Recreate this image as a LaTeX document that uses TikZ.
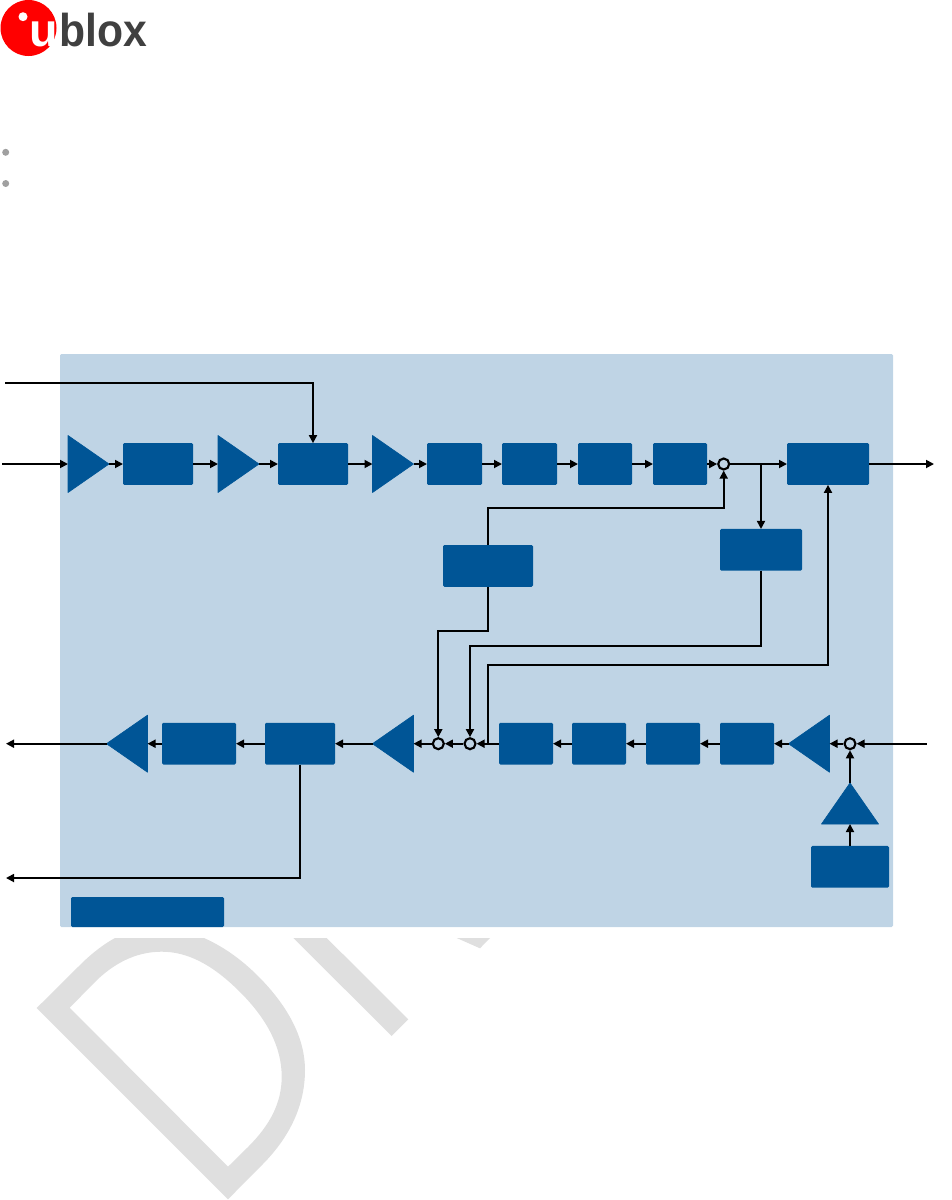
\documentclass[tikz,border=0pt]{standalone}
\usepackage{fontspec}
\setmainfont{Liberation Sans}
\usetikzlibrary{arrows.meta,shapes.geometric}

\begin{document}
\begin{tikzpicture}[
    x=0.75pt, y=-0.75pt,
    every node/.style={inner sep=0pt, outer sep=0pt},
    blockbox/.style={fill=blockcolor, rounded corners=1pt, minimum height=41.7*0.75pt},
    amptri/.style={shape=isosceles triangle, isosceles triangle stretches, anchor=lower side,
        fill=blockcolor, draw=blockcolor, line width=0.5pt, line join=round,
        minimum width=57*0.75pt, minimum height=41*0.75pt},
    sumring/.style={shape=circle, draw=black, fill=panelcolor, line width=1.6pt, minimum size=11*0.75pt, outer sep=0.8pt},
    sigline/.style={-{Triangle[length=6pt, width=6pt]}, line width=1.3pt, color=black},
]

% Colors
\definecolor{blockcolor}{HTML}{005596}
\definecolor{panelcolor}{HTML}{BFD4E5}
\definecolor{markcolor}{HTML}{DFDFDF}
\definecolor{dotcolor}{HTML}{A0A0A0}
\definecolor{logored}{HTML}{FF0000}
\definecolor{logogray}{HTML}{404040}

% Y coordinates
\def\upy{464}
\def\lowy{743.7}
\def\midy{565.9}

\useasboundingbox (0,0) rectangle (951,1200);

% Watermark pieces
\fill[markcolor, even odd rule]
    (36.7,1008) -- (80,965) .. controls (92,953) and (104,944) .. (115,938) -- (204,938)
    .. controls (222,946) and (240,958) .. (258,976) .. controls (290,1008) and (305,1040) .. (305,1070)
    .. controls (305,1105) and (290,1137) .. (262,1165) -- (228,1199.3) -- cycle
    (69.7,1007.7) -- (228,1166.7) -- (248,1147) .. controls (270,1125) and (281.7,1103) .. (281.7,1076.7)
    .. controls (281.7,1048) and (268,1020) .. (240,992) .. controls (212,964) and (187,951.7) .. (161.7,951.7)
    .. controls (140,951.7) and (118,960) .. (97,980) -- cycle;
\fill[markcolor] (293.3,938) -- (326.7,938) -- (408.3,1019.3) -- (391.7,1036) -- cycle;
\fill[markcolor] (456.7,938) -- (490,938) -- (480,948.3) -- cycle;

% Logo
\node[shape=circle, fill=logored, minimum size=56*0.75pt] (logodisc) at (28.5,28) {};
\node[shape=circle, fill=white, minimum size=9*0.75pt] (logodot) at (23,16.7) {};
\node[anchor=base west, font=\bfseries\fontsize{35}{35}\selectfont, text=white] (logou) at (29.5,46.8) {u};
\node[anchor=base west, font=\bfseries\fontsize{32}{32}\selectfont, text=logogray] (logoblox) at (59.5,46.8) {\scalebox{1}[1.08]{blox}};

% Bullets
\node[shape=circle, fill=dotcolor, minimum size=7*0.75pt] (dota) at (5.7,152.3) {};
\node[shape=circle, fill=dotcolor, minimum size=7*0.75pt] (dotb) at (5.7,183.5) {};

% Panel
\node[fill=panelcolor, rounded corners=1pt, minimum width=833*0.75pt, minimum height=573*0.75pt] (panel) at (476.5,640.5) {};

% Upper chain
\node[amptri] (ampa) at (68,\upy) {};
\node[blockbox, minimum width=70*0.75pt] (filta) at (158,\upy) {};
\node[amptri] (ampb) at (218,\upy) {};
\node[blockbox, minimum width=70*0.75pt] (mixa) at (313,\upy) {};
\node[amptri] (ampc) at (372.5,\upy) {};
\node[blockbox, minimum width=55*0.75pt] (upa) at (454.5,\upy) {};
\node[blockbox, minimum width=55*0.75pt] (upb) at (529.5,\upy) {};
\node[blockbox, minimum width=54*0.75pt] (upc) at (605,\upy) {};
\node[blockbox, minimum width=54*0.75pt] (upd) at (680,\upy) {};
\node[sumring] (suma) at (723.7,\upy) {};
\node[blockbox, minimum width=82*0.75pt] (outbox) at (828,\upy) {};

% Middle boxes
\node[blockbox, minimum width=90*0.75pt] (ctrl) at (488,\midy) {};
\node[blockbox, minimum width=82*0.75pt] (meas) at (761,549.8) {};

% Lower chain
\node[amptri, shape border rotate=180] (ampd) at (147.5,\lowy) {};
\node[blockbox, minimum width=74*0.75pt] (filtb) at (199,\lowy) {};
\node[blockbox, minimum width=70*0.75pt] (mixb) at (300,\lowy) {};
\node[amptri, shape border rotate=180] (ampe) at (413.5,\lowy) {};
\node[sumring] (sumb) at (438.3,\lowy) {};
\node[sumring] (sumc) at (470,\lowy) {};
\node[blockbox, minimum width=54*0.75pt] (lowa) at (526,\lowy) {};
\node[blockbox, minimum width=54*0.75pt] (lowb) at (599,\lowy) {};
\node[blockbox, minimum width=54*0.75pt] (lowc) at (673,\lowy) {};
\node[blockbox, minimum width=54*0.75pt] (lowd) at (747,\lowy) {};
\node[amptri, shape border rotate=180] (ampf) at (829.5,\lowy) {};
\node[sumring] (sumd) at (850,\lowy) {};
\node[amptri, shape border rotate=90] (ampg) at (850,824) {};
\node[blockbox, minimum width=78*0.75pt] (refbox) at (850,866.8) {};

% Legend bar
\node[fill=blockcolor, rounded corners=1pt, minimum width=153*0.75pt, minimum height=30*0.75pt] (legend) at (147.5,912) {};

% Free ends
\coordinate (ina) at (2,\upy);
\coordinate (inb) at (5,383);
\coordinate (outa) at (934,\upy);
\coordinate (inc) at (926.7,\lowy);
\coordinate (outb) at (6,\lowy);
\coordinate (outc) at (6,878);
\coordinate (brancha) at (761,\upy);
\coordinate (branchb) at (487.7,\lowy);

% Chain arrows
\foreach \a/\b in {ina/ampa.lower side, ampa.apex/filta.west, filta.east/ampb.lower side, ampb.apex/mixa.west,
    mixa.east/ampc.lower side, ampc.apex/upa.west, upa.east/upb.west, upb.east/upc.west, upc.east/upd.west,
    upd.east/suma.west, suma.east/outbox.west, outbox.east/outa,
    inc/sumd.east, sumd.west/ampf.lower side, ampf.apex/lowd.east, lowd.west/lowc.east, lowc.west/lowb.east,
    lowb.west/lowa.east, lowa.west/sumc.east, sumc.west/sumb.east, sumb.west/ampe.lower side, ampe.apex/mixb.east,
    mixb.west/filtb.east, filtb.west/ampd.lower side, ampd.apex/outb,
    refbox.north/ampg.lower side, ampg.apex/sumd.south, brancha/meas.north} {
    \draw[sigline] (\a) -- (\b);
}

% Routed arrows
\draw[sigline] (inb) -| (mixa.north);
\draw[sigline] (ctrl.north) -- ++(0,-37.3) -| (suma.south);
\draw[sigline] (ctrl.south) -- ++(0,44) -| (sumb.north);
\draw[sigline] (meas.south) -- ++(0,75) -| (sumc.north);
\draw[sigline] (branchb) -- ++(0,-78.7) -| (outbox.south);
\draw[sigline] (mixb.south) |- (outc);

\end{tikzpicture}
\end{document}
